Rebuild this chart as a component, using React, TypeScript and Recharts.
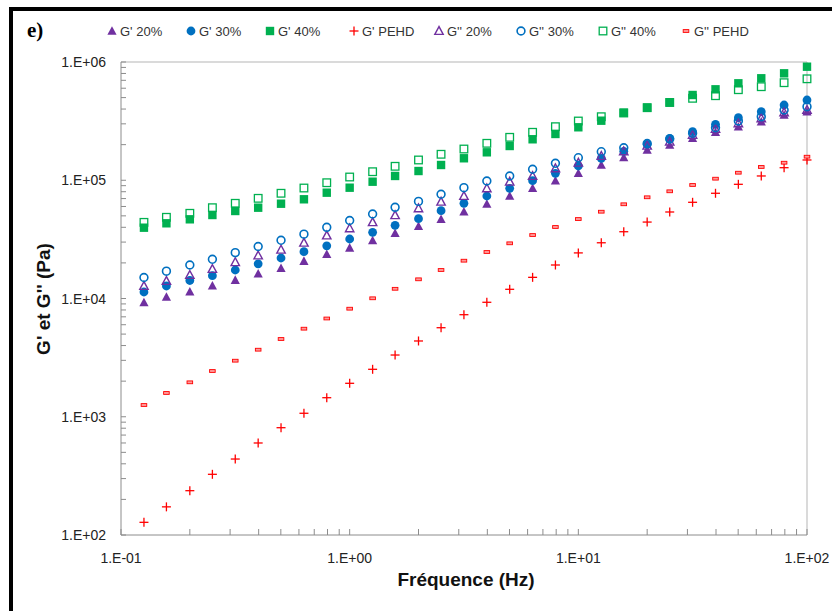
import React from 'react';
import { ScatterChart, Scatter, XAxis, YAxis, ReferenceLine } from 'recharts';

const FREQ = [0.126, 0.158, 0.2, 0.251, 0.316, 0.398, 0.501, 0.631, 0.794, 1, 1.26, 1.58, 2, 2.51, 3.16, 3.98, 5.01, 6.31, 7.94, 10, 12.6, 15.8, 20, 25.1, 31.6, 39.8, 50.1, 63.1, 79.4, 100];

const G1_20 = [9250, 10300, 11400, 12800, 14300, 16200, 18000, 20700, 23700, 26800, 30900, 35600, 40800, 46800, 54200, 63000, 73600, 85500, 99100, 114500, 134600, 155700, 180300, 198700, 226300, 254400, 283800, 312700, 356300, 379900];
const G1_30 = [11350, 12760, 14200, 15590, 17420, 19650, 22000, 24880, 27910, 31860, 36280, 41590, 47300, 55260, 63850, 73590, 85490, 99130, 114500, 132000, 153300, 175700, 201400, 226300, 257400, 297300, 338100, 379900, 432900, 477000];
const G1_40 = [39700, 43250, 46740, 50830, 54950, 58600, 63330, 69020, 78500, 86500, 97200, 108700, 119700, 134600, 153400, 172300, 194800, 222000, 246200, 280500, 318900, 372500, 410800, 456400, 526000, 587500, 660500, 728300, 802400, 912500];
const G1_PEHD = [128, 173, 237, 326, 439, 600, 808, 1070, 1449, 1918, 2519, 3327, 4373, 5662, 7295, 9290, 11960, 15100, 19200, 24300, 29600, 36700, 44300, 53900, 65100, 77600, 92400, 108700, 127700, 148400];
const G2_20 = [12760, 14060, 15800, 17760, 20280, 23100, 25870, 29640, 34110, 39250, 44180, 50630, 57910, 65860, 73590, 85490, 97200, 108600, 126200, 140700, 160400, 175700, 196000, 211800, 241300, 271300, 303000, 334100, 375500, 392800];
const G2_30 = [15050, 17020, 19200, 21460, 24400, 27520, 31060, 34980, 40000, 45660, 51830, 59050, 66240, 76070, 86500, 98550, 108600, 123800, 139100, 155100, 174300, 188100, 204500, 223300, 249500, 278200, 317100, 344700, 392800, 418800];
const G2_40 = [44050, 48600, 52540, 58600, 63830, 70330, 77600, 85960, 95300, 106500, 118100, 131200, 148400, 165800, 183700, 205300, 230700, 254400, 283800, 316900, 344600, 370500, 410800, 454600, 493200, 518800, 583100, 618200, 668300, 721000];
const G2_PEHD = [1257, 1589, 1955, 2437, 2979, 3690, 4545, 5556, 6775, 8200, 10040, 12080, 14530, 17420, 20880, 24730, 29290, 34420, 40250, 46990, 54200, 62630, 71760, 80640, 91200, 103100, 115800, 129500, 140700, 158200];

const SERIES_NAMES = ["G' 20%", "G' 30%", "G' 40%", "G' PEHD", "G'' 20%", "G'' 30%", "G'' 40%", "G'' PEHD"];

const X_TICKS = [0.1, 0.2, 0.3, 0.4, 0.5, 0.6, 0.7, 0.8, 0.9, 1, 2, 3, 4, 5, 6, 7, 8, 9, 10, 20, 30, 40, 50, 60, 70, 80, 90, 100];
const Y_TICKS = [100, 200, 300, 400, 500, 600, 700, 800, 900, 1000, 2000, 3000, 4000, 5000, 6000, 7000, 8000, 9000, 10000, 20000, 30000, 40000, 50000, 60000, 70000, 80000, 90000, 100000, 200000, 300000, 400000, 500000, 600000, 700000, 800000, 900000, 1000000];

const X_TITLE = 'Fréquence (Hz)';
const Y_TITLE = "G' et G'' (Pa)";

const PURPLE = '#7030A0';
const BLUE = '#0070C0';
const GREEN = '#00B050';
const RED = '#FF0000';

const FONT = '"Liberation Sans", Arial, sans-serif';

type Kind = 'ftri' | 'fcirc' | 'fsq' | 'plus' | 'otri' | 'ocirc' | 'osq' | 'dash';

function Marker({ kind, cx, cy, color }: { kind: Kind; cx: number; cy: number; color: string }) {
  if (cx == null || cy == null || isNaN(cx) || isNaN(cy)) return null;
  switch (kind) {
    case 'ftri':
      return <polygon points={`${cx},${cy - 4.8} ${cx - 4.6},${cy + 3.8} ${cx + 4.6},${cy + 3.8}`} fill={color} />;
    case 'otri':
      return <polygon points={`${cx},${cy - 4.4} ${cx - 4.2},${cy + 3.4} ${cx + 4.2},${cy + 3.4}`} fill="none" stroke={color} strokeWidth={1.4} />;
    case 'fcirc':
      return <circle cx={cx} cy={cy} r={4.4} fill={color} />;
    case 'ocirc':
      return <circle cx={cx} cy={cy} r={3.9} fill="none" stroke={color} strokeWidth={1.6} />;
    case 'fsq':
      return <rect x={cx - 4.2} y={cy - 4.2} width={8.4} height={8.4} fill={color} />;
    case 'osq':
      return <rect x={cx - 3.8} y={cy - 3.8} width={7.6} height={7.6} fill="none" stroke={color} strokeWidth={1.3} />;
    case 'plus':
      return (
        <g stroke={color} strokeWidth={1.3}>
          <line x1={cx - 4.5} x2={cx + 4.5} y1={cy} y2={cy} />
          <line x1={cx} x2={cx} y1={cy - 4.5} y2={cy + 4.5} />
        </g>
      );
    case 'dash':
      return <rect x={cx - 2.8} y={cy - 1.4} width={5.6} height={2.8} fill="#ff9a9a" stroke={color} strokeWidth={0.9} />;
    default:
      return null;
  }
}

const SERIES: { name: string; values: number[]; kind: Kind; color: string }[] = [
  { name: SERIES_NAMES[0], values: G1_20, kind: 'ftri', color: PURPLE },
  { name: SERIES_NAMES[1], values: G1_30, kind: 'fcirc', color: BLUE },
  { name: SERIES_NAMES[2], values: G1_40, kind: 'fsq', color: GREEN },
  { name: SERIES_NAMES[3], values: G1_PEHD, kind: 'plus', color: RED },
  { name: SERIES_NAMES[4], values: G2_20, kind: 'otri', color: PURPLE },
  { name: SERIES_NAMES[5], values: G2_30, kind: 'ocirc', color: BLUE },
  { name: SERIES_NAMES[6], values: G2_40, kind: 'osq', color: GREEN },
  { name: SERIES_NAMES[7], values: G2_PEHD, kind: 'dash', color: RED },
];

const LEGEND_X = [112, 191, 270, 354, 439, 521, 603, 686];

function isMajor(v: number) {
  const l = Math.log10(v);
  return Math.abs(l - Math.round(l)) < 1e-9;
}
function fmt(v: number) {
  const e = Math.round(Math.log10(v));
  return '1.E' + (e < 0 ? '-' : '+') + String(Math.abs(e)).padStart(2, '0');
}

function XTick(props: any) {
  const { x, y, payload } = props;
  const v = payload.value;
  return (
    <g>
      <line x1={x} x2={x} y1={y} y2={y - 6} stroke="#8c8c8c" strokeWidth={1} />
      {isMajor(v) && (
        <text x={x} y={y + 28} textAnchor="middle" fontFamily={FONT} fontSize={14} fill="#222">
          {fmt(v)}
        </text>
      )}
    </g>
  );
}

function YTick(props: any) {
  const { x, y, payload } = props;
  const v = payload.value;
  return (
    <g>
      <line x1={x} x2={x + 5} y1={y} y2={y} stroke="#8c8c8c" strokeWidth={1} />
      {isMajor(v) && (
        <text x={x - 15} y={y + 5} textAnchor="end" fontFamily={FONT} fontSize={14} fill="#222">
          {fmt(v)}
        </text>
      )}
    </g>
  );
}

export default function App() {
  return (
    <div style={{ position: 'absolute', left: 0, top: 0, width: 832, height: 611, background: '#fff', overflow: 'hidden' }}>
      <div style={{ position: 'absolute', left: 9, top: 7, width: 840, height: 620, borderLeft: '4px solid #000', borderTop: '4px solid #000' }} />
      <div style={{ position: 'absolute', left: 0, top: 0 }}>
        <ScatterChart width={832} height={611} margin={{ top: 62, right: 25, bottom: 0, left: 0 }}>
          <XAxis
            type="number"
            dataKey="f"
            scale="log"
            domain={[0.1, 100]}
            ticks={X_TICKS}
            interval={0}
            tick={<XTick />}
            tickSize={0}
            tickMargin={0}
            tickLine={false}
            axisLine={{ stroke: '#8c8c8c' }}
            height={76}
          />
          <YAxis
            type="number"
            dataKey="v"
            scale="log"
            domain={[100, 1000000]}
            ticks={Y_TICKS}
            interval={0}
            tick={<YTick />}
            tickSize={0}
            tickMargin={0}
            tickLine={false}
            axisLine={{ stroke: '#8c8c8c' }}
            width={121}
          />
          <ReferenceLine x={100} stroke="#b5b5b5" strokeWidth={1} />
          <ReferenceLine y={1000000} stroke="#b5b5b5" strokeWidth={1} />
          {SERIES.map((s) => (
            <Scatter
              key={s.name}
              name={s.name}
              data={s.values.map((v, i) => ({ f: FREQ[i], v }))}
              isAnimationActive={false}
              shape={(p: any) => <Marker kind={s.kind} cx={p.cx} cy={p.cy} color={s.color} />}
            />
          ))}
        </ScatterChart>
      </div>
      {/* panel label */}
      <div style={{ position: 'absolute', left: 27, top: 18, fontFamily: '"Liberation Serif", serif', fontWeight: 'bold', fontSize: 21, color: '#000' }}>e)</div>
      {/* legend */}
      {SERIES.map((s, i) => (
        <div key={s.name} style={{ position: 'absolute', left: LEGEND_X[i] - 6, top: 22, height: 18, display: 'flex', alignItems: 'center', fontFamily: FONT, fontSize: 13, color: '#333', whiteSpace: 'nowrap' }}>
          <svg width={12} height={12} style={{ marginRight: 2 }}>
            <Marker kind={s.kind} cx={6} cy={6} color={s.color} />
          </svg>
          <span>{s.name}</span>
        </div>
      ))}
      {/* axis titles */}
      <div style={{ position: 'absolute', left: 466, top: 580, transform: 'translate(-50%, -50%)', fontFamily: FONT, fontWeight: 'bold', fontSize: 19, color: '#111', whiteSpace: 'nowrap' }}>{X_TITLE}</div>
      <div style={{ position: 'absolute', left: 44, top: 299, transform: 'translate(-50%, -50%) rotate(-90deg)', fontFamily: FONT, fontWeight: 'bold', fontSize: 19, color: '#111', whiteSpace: 'nowrap' }}>{Y_TITLE}</div>
    </div>
  );
}
